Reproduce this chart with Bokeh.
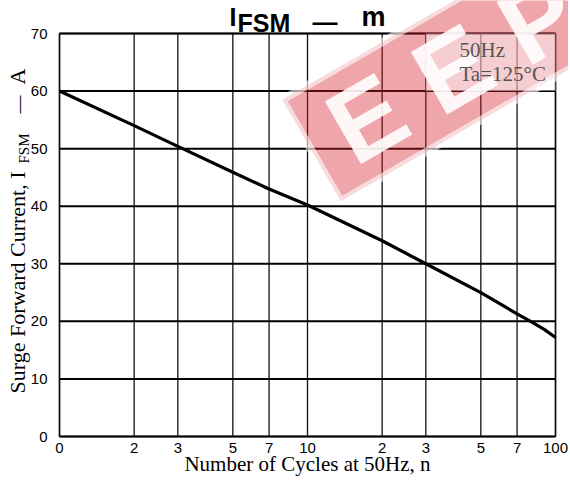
import math
from bokeh.plotting import figure
from bokeh.models import Label, BoxAnnotation, FixedTicker, Range1d
from bokeh.embed import file_html
from bokeh.resources import INLINE

# ---- data ----
cycles = [1, 2, 3, 5, 7, 10, 20, 30, 50, 70, 80, 90, 100]
ifsm = [60, 54.0, 50.4, 45.9, 43.0, 40.2, 34.0, 30.0, 25.0, 21.3, 19.9, 18.6, 17.2]
x_ticks = [1, 2, 3, 5, 7, 10, 20, 30, 50, 70, 100]
x_tick_labels = ["0", "2", "3", "5", "7", "10", "2", "3", "5", "7", "100"]
y_ticks = [0, 10, 20, 30, 40, 50, 60, 70]
x_lo, x_hi = 1, 100
y_lo, y_hi = 0, 70

# ---- layout (page pixels) ----
W, H = 568, 479
FL, FT, FR, FB = 59, 33, 555, 436      # chart box edges
dec = (FR - FL) / (math.log10(x_hi) - math.log10(x_lo))
ppu = (FB - FT) / (y_hi - y_lo)
xr = Range1d(10 ** (math.log10(x_lo) - FL / dec), 10 ** (math.log10(x_hi) + (W - FR) / dec))
yr = Range1d(y_lo - (H - FB) / ppu, y_hi + FT / ppu)

p = figure(width=W, height=H, x_axis_type="log", x_range=xr, y_range=yr,
           output_backend="svg", toolbar_location=None,
           min_border_left=0, min_border_right=0, min_border_top=0, min_border_bottom=0)
p.background_fill_color = "white"
p.border_fill_color = "white"
p.outline_line_color = None
p.xgrid.visible = False
p.ygrid.visible = False

# axes fixed at the chart box edges
p.xaxis.fixed_location = y_lo
p.yaxis.fixed_location = x_lo
p.xaxis.ticker = FixedTicker(ticks=x_ticks)
p.xaxis.major_label_overrides = {t: l for t, l in zip(x_ticks, x_tick_labels)}
p.yaxis.ticker = FixedTicker(ticks=y_ticks)
for ax in (p.xaxis[0], p.yaxis[0]):
    ax.axis_line_color = None
    ax.major_tick_line_color = None
    ax.minor_tick_line_color = None
    ax.major_label_text_font = "Liberation Sans"
    ax.major_label_text_font_size = "15px"
    ax.major_label_text_color = "black"
p.xaxis.major_label_standoff = 0
p.yaxis.major_label_standoff = 6

# grid lines
p.segment(x0=x_ticks, y0=[y_lo] * len(x_ticks), x1=x_ticks, y1=[y_hi] * len(x_ticks),
          line_color="#111111", line_width=1.3)
p.segment(x0=[x_lo] * len(y_ticks), y0=y_ticks, x1=[x_hi] * len(y_ticks), y1=y_ticks,
          line_color="black", line_width=2)
# chart box
p.add_layout(BoxAnnotation(left=x_lo, right=x_hi, bottom=y_lo, top=y_hi,
                           fill_color=None, line_color="black", line_width=2.5))

# curve
p.line(cycles, ifsm, line_color="black", line_width=3.2)

# watermark
NB = "\u00a0"
p.add_layout(Label(x=311, y=H - 150, x_units="screen", y_units="screen",
                   text=NB + "E" + NB + "E" + NB + "P" + NB + NB,
                   angle=math.pi / 6, text_font="Liberation Sans", text_font_style="bold",
                   text_font_size="105px", text_color="white", text_alpha=0.9,
                   text_align="left", text_baseline="middle",
                   background_fill_color="#d4202e", background_fill_alpha=0.4,
                   border_line_color="white", border_line_alpha=0.6, border_line_width=8))

# condition box
p.add_layout(BoxAnnotation(left=30, right=100, bottom=60, top=70,
                           fill_color="white", fill_alpha=0.45, line_color=None))

SHIFT = 0.36   # empirical baseline correction (fraction of font size)

def lab(text, px, py, size, font="Liberation Serif", style="normal", color="black",
        rotated=False, align="left"):
    if rotated:
        px = px - SHIFT * size
    else:
        py = py - SHIFT * size
    p.add_layout(Label(x=px, y=H - py, x_units="screen", y_units="screen",
                       text=text, text_font=font, text_font_size=f"{size}px",
                       text_font_style=style, text_color=color,
                       angle=math.pi / 2 if rotated else 0.0,
                       text_align=align, text_baseline="alphabetic"))

lab("50Hz", 459, 57, 21, color="#555555")
lab("Ta=125°C", 459, 81, 21, color="#555555")

# title
lab("I", 229, 25, 25, font="Liberation Sans", style="bold")
lab("FSM", 237, 31, 25, font="Liberation Sans", style="bold")
lab("—", 312, 30, 25, font="Liberation Sans", style="bold")
lab("m", 361, 26, 27, font="Liberation Sans", style="bold")

# x axis label
lab("Number of Cycles at 50Hz, n", 307, 471, 21, align="center")

# y axis label (rotated pieces)
lab("Surge Forward Current, I", 25, 393, 22, rotated=True)
lab("FSM", 29, 163, 15, rotated=True)
lab("—", 25, 113, 18, rotated=True)
lab("A", 25, 84, 22, rotated=True)

open("out.html", "w").write(file_html(p, INLINE))
